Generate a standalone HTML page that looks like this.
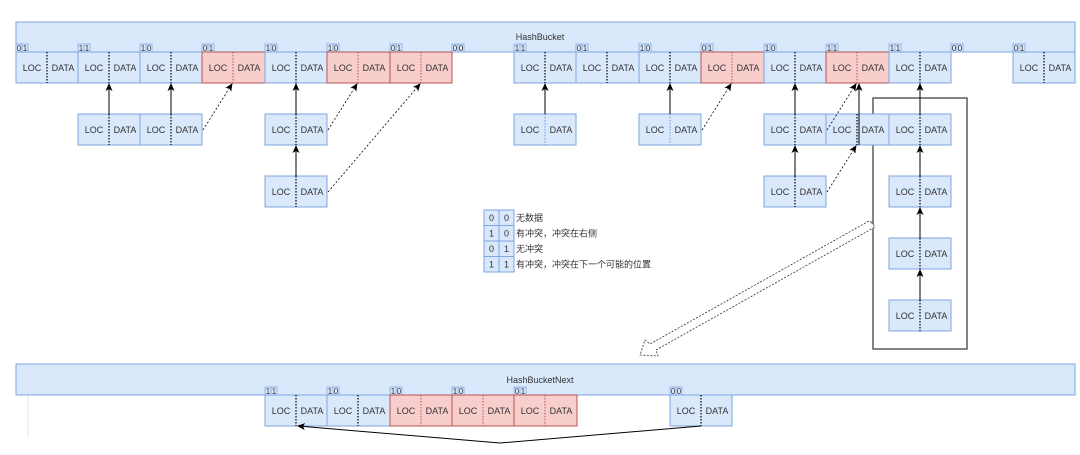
<!DOCTYPE html>
<html><head><meta charset="utf-8"><style>
html,body{margin:0;padding:0;background:#fff;}
svg{display:block;}
text{font-family:"Liberation Sans","Noto Sans CJK SC",sans-serif;fill:#333;}
.b{fill:#dae8fc;stroke:#7ea6e0;stroke-width:1;}
.r{fill:#f8cecc;stroke:#b85450;stroke-width:1;}
.d{stroke:#000;stroke-width:1.2;stroke-dasharray:1.5 1.5;}
.dr{stroke:#b85450;stroke-width:1;stroke-dasharray:1.5 1.5;}
.c{font-size:9px;text-anchor:middle;}
.l{font-size:8px;text-anchor:middle;fill:#333;}
.lb{fill:#dae8fc;stroke:#7ea6e0;stroke-width:0.8;}
.s{stroke:#000;stroke-width:1;fill:none;}
.ds{stroke:#000;stroke-width:0.8;stroke-dasharray:2 2;fill:none;}
</style></head><body>
<svg width="1080" height="455" viewBox="0 0 1080 455" xmlns="http://www.w3.org/2000/svg">
<defs>
<marker id="a" markerWidth="8" markerHeight="8" refX="7" refY="4" orient="auto" markerUnits="userSpaceOnUse"><path d="M0,0.5 L8,4 L0,7.5 L2,4 Z" fill="#000"/></marker>
</defs>

<!-- top bucket -->
<rect x="16" y="22" width="1059" height="30" class="b"/>
<text x="540" y="40" class="c">HashBucket</text>

<!-- top labels -->
<g>
<rect x="16" y="44" width="6" height="8" class="lb"/><rect x="22" y="44" width="6" height="8" class="lb"/><text x="19" y="51" class="l">0</text><text x="25" y="51" class="l">1</text>
<rect x="78" y="44" width="6" height="8" class="lb"/><rect x="84" y="44" width="6" height="8" class="lb"/><text x="81" y="51" class="l">1</text><text x="87" y="51" class="l">1</text>
<rect x="140" y="44" width="6" height="8" class="lb"/><rect x="146" y="44" width="6" height="8" class="lb"/><text x="143" y="51" class="l">1</text><text x="149" y="51" class="l">0</text>
<rect x="202" y="44" width="6" height="8" class="lb"/><rect x="208" y="44" width="6" height="8" class="lb"/><text x="205" y="51" class="l">0</text><text x="211" y="51" class="l">1</text>
<rect x="265" y="44" width="6" height="8" class="lb"/><rect x="271" y="44" width="6" height="8" class="lb"/><text x="268" y="51" class="l">1</text><text x="274" y="51" class="l">0</text>
<rect x="327" y="44" width="6" height="8" class="lb"/><rect x="333" y="44" width="6" height="8" class="lb"/><text x="330" y="51" class="l">1</text><text x="336" y="51" class="l">0</text>
<rect x="390" y="44" width="6" height="8" class="lb"/><rect x="396" y="44" width="6" height="8" class="lb"/><text x="393" y="51" class="l">0</text><text x="399" y="51" class="l">1</text>
<rect x="452" y="44" width="6" height="8" class="lb"/><rect x="458" y="44" width="6" height="8" class="lb"/><text x="455" y="51" class="l">0</text><text x="461" y="51" class="l">0</text>
<rect x="514" y="44" width="6" height="8" class="lb"/><rect x="520" y="44" width="6" height="8" class="lb"/><text x="517" y="51" class="l">1</text><text x="523" y="51" class="l">1</text>
<rect x="576" y="44" width="6" height="8" class="lb"/><rect x="582" y="44" width="6" height="8" class="lb"/><text x="579" y="51" class="l">0</text><text x="585" y="51" class="l">1</text>
<rect x="639" y="44" width="6" height="8" class="lb"/><rect x="645" y="44" width="6" height="8" class="lb"/><text x="642" y="51" class="l">1</text><text x="648" y="51" class="l">0</text>
<rect x="701" y="44" width="6" height="8" class="lb"/><rect x="707" y="44" width="6" height="8" class="lb"/><text x="704" y="51" class="l">0</text><text x="710" y="51" class="l">1</text>
<rect x="764" y="44" width="6" height="8" class="lb"/><rect x="770" y="44" width="6" height="8" class="lb"/><text x="767" y="51" class="l">1</text><text x="773" y="51" class="l">0</text>
<rect x="826" y="44" width="6" height="8" class="lb"/><rect x="832" y="44" width="6" height="8" class="lb"/><text x="829" y="51" class="l">1</text><text x="835" y="51" class="l">1</text>
<rect x="889" y="44" width="6" height="8" class="lb"/><rect x="895" y="44" width="6" height="8" class="lb"/><text x="892" y="51" class="l">1</text><text x="898" y="51" class="l">1</text>
<rect x="951" y="44" width="6" height="8" class="lb"/><rect x="957" y="44" width="6" height="8" class="lb"/><text x="954" y="51" class="l">0</text><text x="960" y="51" class="l">0</text>
<rect x="1013" y="44" width="6" height="8" class="lb"/><rect x="1019" y="44" width="6" height="8" class="lb"/><text x="1016" y="51" class="l">0</text><text x="1022" y="51" class="l">1</text>
</g>

<!-- top row cells y=52 -->
<g>
<rect x="16" y="52" width="62" height="31" class="b"/><line x1="47" y1="52" x2="47" y2="83" class="d"/><text x="32" y="71" class="c">LOC</text><text x="63" y="71" class="c">DATA</text>
<rect x="78" y="52" width="62" height="31" class="b"/><line x1="109" y1="52" x2="109" y2="83" class="d"/><text x="94" y="71" class="c">LOC</text><text x="125" y="71" class="c">DATA</text>
<rect x="140" y="52" width="62" height="31" class="b"/><line x1="171" y1="52" x2="171" y2="83" class="d"/><text x="156" y="71" class="c">LOC</text><text x="187" y="71" class="c">DATA</text>
<rect x="202" y="52" width="63" height="31" class="r"/><line x1="233" y1="52" x2="233" y2="83" class="dr"/><text x="218" y="71" class="c">LOC</text><text x="249" y="71" class="c">DATA</text>
<rect x="265" y="52" width="62" height="31" class="b"/><line x1="296" y1="52" x2="296" y2="83" class="d"/><text x="281" y="71" class="c">LOC</text><text x="312" y="71" class="c">DATA</text>
<rect x="327" y="52" width="63" height="31" class="r"/><line x1="358" y1="52" x2="358" y2="83" class="dr"/><text x="343" y="71" class="c">LOC</text><text x="374" y="71" class="c">DATA</text>
<rect x="390" y="52" width="62" height="31" class="r"/><line x1="421" y1="52" x2="421" y2="83" class="dr"/><text x="406" y="71" class="c">LOC</text><text x="437" y="71" class="c">DATA</text>
<rect x="514" y="52" width="62" height="31" class="b"/><line x1="545" y1="52" x2="545" y2="83" class="d"/><text x="530" y="71" class="c">LOC</text><text x="561" y="71" class="c">DATA</text>
<rect x="576" y="52" width="63" height="31" class="b"/><line x1="607" y1="52" x2="607" y2="83" class="d"/><text x="592" y="71" class="c">LOC</text><text x="623" y="71" class="c">DATA</text>
<rect x="639" y="52" width="62" height="31" class="b"/><line x1="670" y1="52" x2="670" y2="83" class="d"/><text x="655" y="71" class="c">LOC</text><text x="686" y="71" class="c">DATA</text>
<rect x="701" y="52" width="63" height="31" class="r"/><line x1="732" y1="52" x2="732" y2="83" class="dr"/><text x="717" y="71" class="c">LOC</text><text x="748" y="71" class="c">DATA</text>
<rect x="764" y="52" width="62" height="31" class="b"/><line x1="795" y1="52" x2="795" y2="83" class="d"/><text x="780" y="71" class="c">LOC</text><text x="811" y="71" class="c">DATA</text>
<rect x="826" y="52" width="63" height="31" class="r"/><line x1="857" y1="52" x2="857" y2="83" class="dr"/><text x="842" y="71" class="c">LOC</text><text x="873" y="71" class="c">DATA</text>
<rect x="889" y="52" width="62" height="31" class="b"/><line x1="920" y1="52" x2="920" y2="83" class="d"/><text x="905" y="71" class="c">LOC</text><text x="936" y="71" class="c">DATA</text>
<rect x="1013" y="52" width="62" height="31" class="b"/><line x1="1044" y1="52" x2="1044" y2="83" class="d"/><text x="1029" y="71" class="c">LOC</text><text x="1060" y="71" class="c">DATA</text>
</g>

<!-- container box -->
<rect x="873" y="98" width="94" height="251" fill="none" stroke="#333" stroke-width="1.2"/>

<!-- second-level cells -->
<g>
<rect x="78" y="114" width="62" height="31" class="b"/><line x1="109" y1="114" x2="109" y2="145" class="d"/><text x="94" y="133" class="c">LOC</text><text x="125" y="133" class="c">DATA</text>
<rect x="140" y="114" width="62" height="31" class="b"/><line x1="171" y1="114" x2="171" y2="145" class="d"/><text x="156" y="133" class="c">LOC</text><text x="187" y="133" class="c">DATA</text>
<rect x="265" y="114" width="62" height="31" class="b"/><line x1="296" y1="114" x2="296" y2="145" class="d"/><text x="281" y="133" class="c">LOC</text><text x="312" y="133" class="c">DATA</text>
<rect x="265" y="176" width="62" height="31" class="b"/><line x1="296" y1="176" x2="296" y2="207" class="d"/><text x="281" y="195" class="c">LOC</text><text x="312" y="195" class="c">DATA</text>
<rect x="514" y="114" width="62" height="31" class="b"/><line x1="545" y1="114" x2="545" y2="145" class="d" style="stroke:#7ea6e0"/><text x="530" y="133" class="c">LOC</text><text x="561" y="133" class="c">DATA</text>
<rect x="639" y="114" width="62" height="31" class="b"/><line x1="670" y1="114" x2="670" y2="145" class="d" style="stroke:#7ea6e0"/><text x="655" y="133" class="c">LOC</text><text x="686" y="133" class="c">DATA</text>
<rect x="764" y="114" width="62" height="31" class="b"/><line x1="795" y1="114" x2="795" y2="145" class="d"/><text x="780" y="133" class="c">LOC</text><text x="811" y="133" class="c">DATA</text>
<rect x="826" y="114" width="63" height="31" class="b"/><line x1="857" y1="114" x2="857" y2="145" class="d"/><text x="842" y="133" class="c">LOC</text><text x="873" y="133" class="c">DATA</text>
<rect x="889" y="114" width="62" height="31" class="b"/><line x1="920" y1="114" x2="920" y2="145" class="d"/><text x="905" y="133" class="c">LOC</text><text x="936" y="133" class="c">DATA</text>
<rect x="764" y="176" width="62" height="31" class="b"/><line x1="795" y1="176" x2="795" y2="207" class="d"/><text x="780" y="195" class="c">LOC</text><text x="811" y="195" class="c">DATA</text>
<rect x="889" y="176" width="62" height="31" class="b"/><line x1="920" y1="176" x2="920" y2="207" class="d"/><text x="905" y="195" class="c">LOC</text><text x="936" y="195" class="c">DATA</text>
<rect x="889" y="238" width="62" height="31" class="b"/><line x1="920" y1="238" x2="920" y2="269" class="d"/><text x="905" y="257" class="c">LOC</text><text x="936" y="257" class="c">DATA</text>
<rect x="889" y="300" width="62" height="31" class="b"/><line x1="920" y1="300" x2="920" y2="331" class="d"/><text x="905" y="319" class="c">LOC</text><text x="936" y="319" class="c">DATA</text>
</g>

<!-- arrows top -->
<g>
<line x1="109" y1="114" x2="109" y2="84" class="s" marker-end="url(#a)"/>
<line x1="171" y1="114" x2="171" y2="84" class="s" marker-end="url(#a)"/>
<line x1="203" y1="130" x2="232" y2="84" class="ds" marker-end="url(#a)"/>
<line x1="296" y1="114" x2="296" y2="84" class="s" marker-end="url(#a)"/>
<line x1="296" y1="176" x2="296" y2="146" class="s" marker-end="url(#a)"/>
<line x1="328" y1="130" x2="357" y2="84" class="ds" marker-end="url(#a)"/>
<line x1="328" y1="192" x2="420" y2="84" class="ds" marker-end="url(#a)"/>
<line x1="545" y1="114" x2="545" y2="84" class="s" marker-end="url(#a)"/>
<line x1="670" y1="114" x2="670" y2="84" class="s" marker-end="url(#a)"/>
<line x1="702" y1="130" x2="731" y2="84" class="ds" marker-end="url(#a)"/>
<line x1="795" y1="114" x2="795" y2="84" class="s" marker-end="url(#a)"/>
<line x1="795" y1="176" x2="795" y2="146" class="s" marker-end="url(#a)"/>
<line x1="827" y1="130" x2="856" y2="84" class="ds" marker-end="url(#a)"/>
<line x1="859" y1="145" x2="859" y2="84" class="s" marker-end="url(#a)"/>
<line x1="827" y1="192" x2="856" y2="146" class="ds" marker-end="url(#a)"/>
<line x1="920" y1="114" x2="920" y2="84" class="s" marker-end="url(#a)"/>
<line x1="920" y1="176" x2="920" y2="146" class="s" marker-end="url(#a)"/>
<line x1="920" y1="238" x2="920" y2="208" class="s" marker-end="url(#a)"/>
<line x1="920" y1="300" x2="920" y2="270" class="s" marker-end="url(#a)"/>
</g>

<!-- legend -->
<g>
<rect x="484" y="210" width="15" height="15.5" class="b"/><rect x="499" y="210" width="15" height="15.5" class="b"/>
<rect x="484" y="225.5" width="15" height="15.5" class="b"/><rect x="499" y="225.5" width="15" height="15.5" class="b"/>
<rect x="484" y="241" width="15" height="15.5" class="b"/><rect x="499" y="241" width="15" height="15.5" class="b"/>
<rect x="484" y="256.5" width="15" height="15.5" class="b"/><rect x="499" y="256.5" width="15" height="15.5" class="b"/>
<text x="491.5" y="221" class="c">0</text><text x="506.5" y="221" class="c">0</text>
<text x="491.5" y="236.5" class="c">1</text><text x="506.5" y="236.5" class="c">0</text>
<text x="491.5" y="252" class="c">0</text><text x="506.5" y="252" class="c">1</text>
<text x="491.5" y="267.5" class="c">1</text><text x="506.5" y="267.5" class="c">1</text>
<text x="516" y="221" font-size="9">无数据</text>
<text x="516" y="236.5" font-size="9">有冲突，冲突在右侧</text>
<text x="516" y="252" font-size="9">无冲突</text>
<text x="516" y="267.5" font-size="9">有冲突，冲突在下一个可能的位置</text>
</g>

<!-- big hollow dashed arrow -->
<path d="M871,222 L875,227 L656,350 L658,356 L640,355 L645,340 L650,344 L869,221 Z" fill="#fff" stroke="#333" stroke-width="0.8" stroke-dasharray="2 1.5"/>

<!-- bottom bucket -->
<rect x="16" y="364" width="1059" height="31" class="b"/>
<text x="540" y="383" class="c">HashBucketNext</text>
<g>
<rect x="265" y="387" width="6" height="8" class="lb"/><rect x="271" y="387" width="6" height="8" class="lb"/><text x="268" y="394" class="l">1</text><text x="274" y="394" class="l">1</text>
<rect x="327" y="387" width="6" height="8" class="lb"/><rect x="333" y="387" width="6" height="8" class="lb"/><text x="330" y="394" class="l">1</text><text x="336" y="394" class="l">0</text>
<rect x="390" y="387" width="6" height="8" class="lb"/><rect x="396" y="387" width="6" height="8" class="lb"/><text x="393" y="394" class="l">1</text><text x="399" y="394" class="l">0</text>
<rect x="452" y="387" width="6" height="8" class="lb"/><rect x="458" y="387" width="6" height="8" class="lb"/><text x="455" y="394" class="l">1</text><text x="461" y="394" class="l">0</text>
<rect x="514" y="387" width="6" height="8" class="lb"/><rect x="520" y="387" width="6" height="8" class="lb"/><text x="517" y="394" class="l">0</text><text x="523" y="394" class="l">1</text>
<rect x="670" y="387" width="6" height="8" class="lb"/><rect x="676" y="387" width="6" height="8" class="lb"/><text x="673" y="394" class="l">0</text><text x="679" y="394" class="l">0</text>
</g>
<g>
<rect x="265" y="395" width="62" height="31" class="b"/><line x1="296" y1="395" x2="296" y2="426" class="d"/><text x="281" y="414" class="c">LOC</text><text x="312" y="414" class="c">DATA</text>
<rect x="327" y="395" width="63" height="31" class="b"/><line x1="358" y1="395" x2="358" y2="426" class="d"/><text x="343" y="414" class="c">LOC</text><text x="374" y="414" class="c">DATA</text>
<rect x="390" y="395" width="62" height="31" class="r"/><line x1="421" y1="395" x2="421" y2="426" class="dr"/><text x="406" y="414" class="c">LOC</text><text x="437" y="414" class="c">DATA</text>
<rect x="452" y="395" width="62" height="31" class="r"/><line x1="483" y1="395" x2="483" y2="426" class="dr"/><text x="468" y="414" class="c">LOC</text><text x="499" y="414" class="c">DATA</text>
<rect x="514" y="395" width="63" height="31" class="r"/><line x1="545" y1="395" x2="545" y2="426" class="dr"/><text x="530" y="414" class="c">LOC</text><text x="561" y="414" class="c">DATA</text>
<rect x="670" y="395" width="62" height="31" class="b"/><line x1="701" y1="395" x2="701" y2="426" class="d"/><text x="686" y="414" class="c">LOC</text><text x="717" y="414" class="c">DATA</text>
</g>
<polyline points="701,426 500,443 298,426" class="s" marker-end="url(#a)"/>
<line x1="28" y1="396" x2="28" y2="437" stroke="#e6e6e6" stroke-width="1"/>
</svg>
</body></html>
